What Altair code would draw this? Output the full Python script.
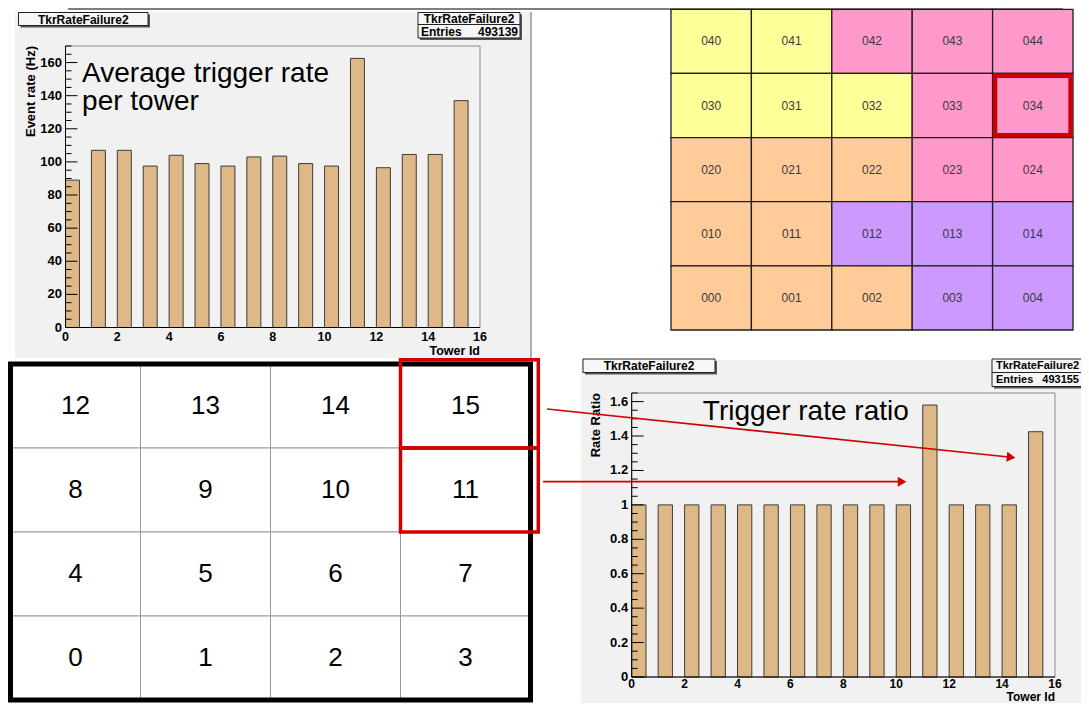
import math
import altair as alt
import pandas as pd

# ---------------- values ----------------
towers = list(range(16))
avg_rate_hz = [89, 107, 107, 97.5, 104, 99, 97.5, 103, 103.5, 99, 97.5, 162.5, 96.5, 104.5, 104.5, 137]
rate_ratio = [1, 1, 1, 1, 1, 1, 1, 1, 1, 1, 1, 1.58, 1, 1, 1, 1.425]

tower_tick_labels = [0, 2, 4, 6, 8, 10, 12, 14, 16]
rate_tick_labels = [0, 20, 40, 60, 80, 100, 120, 140, 160]
rate_minor_ticks = [v for v in range(0, 171, 5) if v % 20]
ratio_tick_labels = [0, 0.2, 0.4, 0.6, 0.8, 1, 1.2, 1.4, 1.6]
ratio_minor_ticks = [round(0.05 * i, 2) for i in range(34) if i % 4]

hist_name = "TkrRateFailure2"
entries_rate = "493139"
entries_ratio = "493155"
rate_note = ["Average trigger rate", "per tower"]
ratio_note = "Trigger rate ratio"
x_title = "Tower Id"
rate_title = "Event rate (Hz)"
ratio_title = "Rate Ratio"

module_labels = [
    ["040", "041", "042", "043", "044"],
    ["030", "031", "032", "033", "034"],
    ["020", "021", "022", "023", "024"],
    ["010", "011", "012", "013", "014"],
    ["000", "001", "002", "003", "004"],
]
module_groups = [
    ["yellow", "yellow", "pink", "pink", "pink"],
    ["yellow", "yellow", "yellow", "pink", "pink"],
    ["orange", "orange", "orange", "pink", "pink"],
    ["orange", "orange", "violet", "violet", "violet"],
    ["orange", "orange", "orange", "violet", "violet"],
]
group_names = ["yellow", "pink", "orange", "violet"]
group_colors = ["#ffff99", "#ff99cc", "#ffcc99", "#cc99ff"]
module_highlight = ["034"]

tower_layout = [
    [12, 13, 14, 15],
    [8, 9, 10, 11],
    [4, 5, 6, 7],
    [0, 1, 2, 3],
]
tower_highlight = [15, 11]

arrow_tower = [15, 11]
arrow_x0 = [-3.20, -3.35]
arrow_y0 = [1.557, 1.135]
arrow_x1 = [14.56, 10.44]
arrow_y1 = [1.273, 1.135]

# ---------------- layout / style ----------------
W, H = 1073, 695
OX, OY = 8, 8
FONT = "Liberation Sans"
PAD = "#f1f1f1"
BAR = "#deb887"
EDGE = "#3c3c3c"
RED = "#d00000"
ONE = pd.DataFrame({"k": [0]})


def X(v):
    return alt.value(v - OX)


def Y(v):
    return alt.value(v - OY)


def box(x0, y0, x1, y1, **kw):
    return alt.Chart(ONE).mark_rect(**kw).encode(x=X(x0), x2=X(x1), y=Y(y0), y2=Y(y1))


def label(x, y, s, **kw):
    style = dict(font=FONT, fontSize=12, fontWeight="bold", color="black", baseline="middle")
    style.update(kw)
    return alt.Chart(ONE).mark_text(text=s, **style).encode(x=X(x), y=Y(y))


def hline(x0, x1, y, **kw):
    return alt.Chart(ONE).mark_rule(**kw).encode(x=X(x0), x2=X(x1), y=Y(y))


def vline(x, y0, y1, **kw):
    return alt.Chart(ONE).mark_rule(**kw).encode(x=X(x), y=Y(y0), y2=Y(y1))


def title_box(x0, y0, x1, y1, text):
    return [
        box(x0 + 2, y0 + 2, x1 + 2, y1 + 2, fill="#555555"),
        box(x0, y0, x1, y1, fill="#f6f6f6", stroke="#222222", strokeWidth=1),
        label((x0 + x1) / 2, (y0 + y1) / 2 + 0.5, text, align="center"),
    ]


# ---------------- scales ----------------
def qscale(domain, r0, r1):
    return alt.Scale(domain=domain, range=[r0, r1], nice=False, zero=False)


tl_x = qscale([0, 16], 65.5 - OX, 480 - OX)
tl_y = qscale([0, 170], 327.5 - OY, 46 - OY)
br_x = qscale([0, 16], 631.7 - OX, 1055 - OX)
br_y = qscale([0, 1.65], 677 - OY, 393 - OY)
tr_x = qscale([0, 5], 671 - OX, 1073 - OX)
tr_y = qscale([0, 5], 330 - OY, 9.3 - OY)
bl_x = qscale([0, 4], 10.5 - OX, 530.5 - OX)
bl_y = qscale([0, 4], 700 - OY, 364 - OY)

AXF = dict(font=FONT, fontWeight="bold", color="black")


def xd(v, s):
    return alt.XDatum(v, type="quantitative", scale=s, axis=None)


def yd(v, s):
    return alt.YDatum(v, type="quantitative", scale=s, axis=None)


def histogram(values, xs, ys, ymax, major, minor, yfmt, ytitle, frame_left, frame_bottom,
              frame_right, frame_top, ytitle_x, xtitle_y, xlab_size, xlab_pad):
    df = pd.DataFrame({"tower": towers, "value": values})
    frame = alt.Chart(ONE).mark_rect(fill=PAD, stroke="#8a8a8a", strokeWidth=1).encode(
        x=xd(0, xs), x2=alt.X2Datum(16), y=yd(0, ys), y2=alt.Y2Datum(ymax))
    bars = alt.Chart(df).transform_calculate(tower_end="datum.tower + 0.54").mark_rect(
        fill=BAR, stroke=EDGE, strokeWidth=1).encode(
        x=alt.X("tower:Q", scale=xs, axis=None), x2=alt.X2("tower_end"),
        y=alt.Y("value:Q", scale=ys, axis=None), y2=alt.Y2Datum(0))
    fx = frame_left - OX
    tmaj = alt.Chart(pd.DataFrame({"v": major})).mark_rule(color="black", strokeWidth=1).encode(
        y=alt.Y("v:Q", scale=ys, axis=None), x=alt.value(fx), x2=alt.value(fx + 12))
    tmin = alt.Chart(pd.DataFrame({"v": minor})).mark_rule(color="black", strokeWidth=1).encode(
        y=alt.Y("v:Q", scale=ys, axis=None), x=alt.value(fx), x2=alt.value(fx + 6))
    # axis lines
    xdom = alt.Chart(ONE).mark_rule(color="black", strokeWidth=1).encode(
        x=xd(0, xs), x2=alt.X2Datum(16), y=yd(0, ys))
    ydom = alt.Chart(ONE).mark_rule(color="black", strokeWidth=1).encode(
        x=xd(0, xs), y=yd(0, ys), y2=alt.Y2Datum(ymax))
    # tick labels through the scales
    xlab = alt.Chart(pd.DataFrame({"v": tower_tick_labels})).mark_text(
        align="center", baseline="top", fontSize=xlab_size, **AXF).encode(
        x=alt.X("v:Q", scale=xs, axis=None), y=alt.value(frame_bottom - OY + xlab_pad),
        text=alt.Text("v:Q", format="d"))
    ylab = alt.Chart(pd.DataFrame({"v": major})).mark_text(
        align="right", baseline="middle", fontSize=13, **AXF).encode(
        y=alt.Y("v:Q", scale=ys, axis=None), x=alt.value(frame_left - OX - 3.5),
        text=alt.Text("v:Q", format=yfmt))
    xt = alt.Chart(ONE).mark_text(text=x_title, align="right", baseline="middle",
                                  fontSize=xlab_size, **AXF).encode(
        x=alt.value(frame_right - OX), y=alt.value(xtitle_y - OY))
    yt = alt.Chart(ONE).mark_text(text=ytitle, align="right", baseline="middle", angle=270,
                                  fontSize=13, **AXF).encode(
        x=alt.value(ytitle_x - OX), y=alt.value(frame_top - OY))
    return [frame, bars, tmaj, tmin, xdom, ydom, xlab, ylab, xt, yt]


def note(text, xv, yv, xs, ys):
    return alt.Chart(ONE).mark_text(text=text, font=FONT, fontSize=28, align="left",
                                    baseline="alphabetic", color="black").encode(
        x=xd(xv, xs), y=yd(yv, ys))


# ---------------- top-left: average rate ----------------
tl_parts = histogram(avg_rate_hz, tl_x, tl_y, 170, rate_tick_labels, rate_minor_ticks, "d",
                     rate_title, 65.5, 327.5, 480, 46, 31, 350.5, 12.5, 3)
tl_parts += [note(rate_note[0], 0.64, 148.4, tl_x, tl_y), note(rate_note[1], 0.64, 131.3, tl_x, tl_y)]
tl_chart = alt.layer(*tl_parts)

tl_decor = [box(15, 12, 531, 358, fill=PAD), vline(531, 12, 358, color="#b0b0b0", strokeWidth=2)]
tl_decor += title_box(18.5, 12.5, 148, 25.5, hist_name)
tl_decor += [
    box(420, 14.5, 522, 40, fill="#555555"),
    box(418, 12.5, 520, 38, fill="#f6f6f6", stroke="#222222", strokeWidth=1),
    hline(418, 520, 24.5, color="#222222", strokeWidth=1),
    label(469, 18.8, hist_name, align="center"),
    label(421, 31.5, "Entries", align="left"),
    label(518, 31.5, entries_rate, align="right"),
]

# ---------------- top-right: module grid ----------------
mod_rows = []
for r, (labs, grps) in enumerate(zip(module_labels, module_groups)):
    for c, (lab, grp) in enumerate(zip(labs, grps)):
        mod_rows.append({"col": c, "row": len(module_labels) - 1 - r, "module": lab, "group": grp})
df_mod = pd.DataFrame(mod_rows)

mod_cells = alt.Chart(df_mod).transform_calculate(
    col_end="datum.col + 1", row_end="datum.row + 1").mark_rect(
    stroke="#1e1e1e", strokeWidth=1.3, opacity=1).encode(
    x=alt.X("col:Q", scale=tr_x, axis=None), x2=alt.X2("col_end"),
    y=alt.Y("row:Q", scale=tr_y, axis=None), y2=alt.Y2("row_end"),
    color=alt.Color("group:N", scale=alt.Scale(domain=group_names, range=group_colors), legend=None))
mod_text = alt.Chart(df_mod).transform_calculate(
    cx="datum.col + 0.5", cy="datum.row + 0.5").mark_text(
    font=FONT, fontSize=12, color="#3a3a3a").encode(
    x=alt.X("cx:Q", scale=tr_x, axis=None), y=alt.Y("cy:Q", scale=tr_y, axis=None), text="module:N")
mod_hl = alt.Chart(df_mod).transform_filter(
    alt.FieldOneOfPredicate(field="module", oneOf=module_highlight)).transform_calculate(
    hx0="datum.col + 0.03", hx1="datum.col + 0.97", hy0="datum.row + 0.035", hy1="datum.row + 0.965").mark_rect(
    fillOpacity=0, stroke=RED, strokeWidth=4.5).encode(
    x=alt.X("hx0:Q", scale=tr_x, axis=None), x2=alt.X2("hx1"),
    y=alt.Y("hy0:Q", scale=tr_y, axis=None), y2=alt.Y2("hy1"))
tr_chart = alt.layer(mod_cells, mod_text, mod_hl)

# ---------------- bottom-right: rate ratio ----------------
br_decor = [box(581, 360, 1095, 720, fill=PAD)]
br_decor += title_box(583, 359, 715, 372.5, hist_name)
br_decor += [
    box(994, 361, 1100, 388.5, fill="#555555"),
    box(992, 359, 1098, 386.5, fill="#f6f6f6", stroke="#222222", strokeWidth=1),
    hline(992, 1098, 372.5, color="#222222", strokeWidth=1),
    label(996, 366, hist_name, align="left", fontSize=11),
    label(996, 380, "Entries", align="left", fontSize=11),
    label(1079, 380, entries_ratio, align="right", fontSize=11),
]

br_parts = histogram(rate_ratio, br_x, br_y, 1.65, ratio_tick_labels, ratio_minor_ticks, ".1~f",
                     ratio_title, 631.7, 677, 1055, 393, 596, 696.5, 12, 2)
br_parts += [note(ratio_note, 2.69, 1.493, br_x, br_y)]

# arrows from the highlighted towers to their bars
px_per_x = (1055 - 631.7) / 16
px_per_y = (677 - 393) / 1.65
BACK = 0.22
df_arrow = pd.DataFrame({"tower": arrow_tower, "x0": arrow_x0, "y0": arrow_y0,
                         "x1": arrow_x1, "y1": arrow_y1})
df_arrow["xh"] = df_arrow["x1"] - BACK
df_arrow["yh"] = df_arrow["y1"] - (df_arrow["y1"] - df_arrow["y0"]) / (df_arrow["x1"] - df_arrow["x0"]) * BACK
df_arrow["ang"] = [
    math.degrees(math.atan2(-(b1 - b0) * px_per_y, (a1 - a0) * px_per_x)) % 360
    for a0, b0, a1, b1 in zip(arrow_x0, arrow_y0, arrow_x1, arrow_y1)
]
arrow_line = alt.Chart(df_arrow).mark_rule(color=RED, strokeWidth=1.6).encode(
    x=alt.X("x0:Q", scale=br_x, axis=None), y=alt.Y("y0:Q", scale=br_y, axis=None),
    x2=alt.X2("xh"), y2=alt.Y2("yh"))
arrow_head = alt.Chart(df_arrow).mark_point(
    shape="triangle-right", filled=True, size=100, color=RED, opacity=1).encode(
    x=alt.X("xh:Q", scale=br_x, axis=None), y=alt.Y("yh:Q", scale=br_y, axis=None),
    angle=alt.Angle("ang:Q", scale=None))
br_parts += [arrow_line, arrow_head]
br_chart = alt.layer(*br_parts)

# ---------------- bottom-left: tower layout ----------------
tw_rows = []
for r, row in enumerate(tower_layout):
    for c, t in enumerate(row):
        tw_rows.append({"col": c, "row": len(tower_layout) - 1 - r, "tower": t})
df_tw = pd.DataFrame(tw_rows)

tw_cells = alt.Chart(df_tw).transform_calculate(
    col_end="datum.col + 1", row_end="datum.row + 1").mark_rect(
    fill="white", stroke="#9a9a9a", strokeWidth=1).encode(
    x=alt.X("col:Q", scale=bl_x, axis=None), x2=alt.X2("col_end"),
    y=alt.Y("row:Q", scale=bl_y, axis=None), y2=alt.Y2("row_end"))
tw_border = alt.Chart(ONE).mark_rect(fillOpacity=0, stroke="black", strokeWidth=5).encode(
    x=xd(0, bl_x), x2=alt.X2Datum(4), y=yd(0, bl_y), y2=alt.Y2Datum(4))
tw_hl = alt.Chart(df_tw).transform_filter(
    alt.FieldOneOfPredicate(field="tower", oneOf=tower_highlight)).transform_calculate(
    hx1="datum.col + 1.06", hy1="datum.row + 1 + (datum.row == 3 ? 0.05 : 0)").mark_rect(
    fillOpacity=0, stroke=RED, strokeWidth=3.5).encode(
    x=alt.X("col:Q", scale=bl_x, axis=None), x2=alt.X2("hx1"),
    y=alt.Y("row:Q", scale=bl_y, axis=None), y2=alt.Y2("hy1"))
tw_text = alt.Chart(df_tw).transform_calculate(
    cx="datum.col + 0.5", cy="datum.row + 0.5").mark_text(
    font=FONT, fontSize=26, color="black", baseline="middle").encode(
    x=alt.X("cx:Q", scale=bl_x, axis=None), y=alt.Y("cy:Q", scale=bl_y, axis=None), text="tower:N")
bl_chart = alt.layer(tw_cells, tw_border, tw_hl, tw_text)

header = [hline(68, 1063, 9, color="#7f7f7f", strokeWidth=2)]

chart = alt.layer(
    *header, *tl_decor, tl_chart, tr_chart, *br_decor, br_chart, bl_chart
).resolve_scale(x="independent", y="independent").properties(
    width=W, height=H, padding=0, autosize=alt.AutoSizeParams(type="none"), background="white"
).configure_view(stroke=None)

chart.save("out.html", embed_options={"renderer": "svg", "actions": False})
